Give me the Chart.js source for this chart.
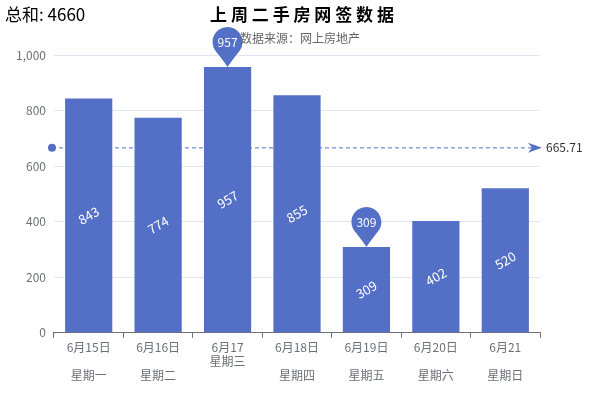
<!DOCTYPE html>
<html><head><meta charset="utf-8">
<script src="https://cdn.jsdelivr.net/npm/chart.js@4/dist/chart.umd.min.js"></script>
<style>body{margin:0;background:#fff}#wrap{width:600px;height:400px}</style>
</head><body><div id="wrap"><canvas id="c"></canvas></div>
<script>
// data
const dates = ['6月15日', '6月16日', '6月17', '6月18日', '6月19日', '6月20日', '6月21'];
const weekdays = ['星期一', '星期二', '星期三', '星期四', '星期五', '星期六', '星期日'];
const values = [843, 774, 957, 855, 309, 402, 520];
const yTicks = [0, 200, 400, 600, 800, 1000];

const total = values.reduce((a, b) => a + b, 0);
const avg = total / values.length;
const labels = dates.map((d, i) => i === 2 ? [d, weekdays[i]] : [d, '', weekdays[i]]);
const blue = '#5470c6';
const font = '"Noto Sans CJK SC", "Noto Sans", sans-serif';

const extras = {
  id: 'extras',
  afterDatasetsDraw(chart) {
    const ctx = chart.ctx, x = chart.scales.x, y = chart.scales.y;
    const meta = chart.getDatasetMeta(0);
    ctx.save();
    // value labels inside bars
    ctx.fillStyle = '#fff';
    ctx.font = '13px ' + font;
    ctx.textAlign = 'center'; ctx.textBaseline = 'middle';
    meta.data.forEach((bar, i) => {
      ctx.save();
      ctx.translate(bar.x, (bar.y + bar.base) / 2);
      ctx.rotate(-Math.PI / 6);
      ctx.fillText(values[i], 0, 0);
      ctx.restore();
    });
    // max / min pins
    const maxI = values.indexOf(Math.max(...values));
    const minI = values.indexOf(Math.min(...values));
    [maxI, minI].forEach(i => {
      const bx = meta.data[i].x, by = meta.data[i].y;
      const cy = by - 25, r = 15;
      ctx.fillStyle = blue;
      ctx.beginPath();
      ctx.arc(bx, cy, r, Math.PI * 0.8, Math.PI * 0.2);
      ctx.quadraticCurveTo(bx + 4, by - 6, bx, by);
      ctx.quadraticCurveTo(bx - 4, by - 6, bx - r * Math.cos(Math.PI * 0.2), cy + r * Math.sin(Math.PI * 0.2));
      ctx.fill();
      ctx.fillStyle = '#fff';
      ctx.font = '12px ' + font;
      ctx.fillText(values[i], bx, cy);
    });
    // average line
    const ay = y.getPixelForValue(avg);
    const x0 = chart.chartArea.left - 2, x1 = chart.chartArea.right;
    ctx.strokeStyle = blue; ctx.lineWidth = 1;
    ctx.setLineDash([4, 3]);
    ctx.beginPath(); ctx.moveTo(x0, ay); ctx.lineTo(x1 - 4, ay); ctx.stroke();
    ctx.setLineDash([]);
    ctx.fillStyle = blue;
    ctx.beginPath(); ctx.arc(x0, ay, 4, 0, Math.PI * 2); ctx.fill();
    ctx.beginPath(); ctx.moveTo(x1 + 2, ay); ctx.lineTo(x1 - 12, ay - 5); ctx.lineTo(x1 - 8, ay); ctx.lineTo(x1 - 12, ay + 5); ctx.closePath(); ctx.fill();
    ctx.fillStyle = '#333'; ctx.textAlign = 'left';
    ctx.font = '12px ' + font;
    ctx.fillText(avg.toFixed(2), x1 + 6, ay);
    // titles
    ctx.textBaseline = 'middle';
    ctx.fillStyle = '#000';
    ctx.font = '17px ' + font;
    ctx.fillText('总和: ' + total, 5, 15);
    ctx.textAlign = 'center';
    ctx.font = 'bold 17px ' + font;
    ctx.fillText('上 周 二 手 房 网 签 数 据', 302, 15);
    ctx.fillStyle = '#666';
    ctx.font = '12px ' + font;
    ctx.fillText('数据来源：网上房地产', 300, 38);
    ctx.restore();
  }
};

new Chart(document.getElementById('c'), {
  type: 'bar',
  data: { labels: labels, datasets: [{ data: values, backgroundColor: blue, barPercentage: 0.68, categoryPercentage: 1 }] },
  options: {
    responsive: true, maintainAspectRatio: false, animation: false,
    layout: { padding: { top: 55, right: 60, left: 8, bottom: 15 } },
    plugins: { legend: { display: false }, tooltip: { enabled: false } },
    scales: {
      x: {
        grid: { offset: true, drawOnChartArea: false, tickLength: 5, color: '#6e7079' },
        border: { color: '#6e7079' },
        ticks: { color: '#6e7079', font: { size: 12, family: font }, maxRotation: 0, padding: 2 }
      },
      y: {
        min: 0, max: 1000,
        afterBuildTicks: s => { s.ticks = yTicks.map(v => ({ value: v })); },
        grid: { color: '#e0e6f1', drawTicks: false },
        border: { display: false },
        ticks: { color: '#6e7079', font: { size: 12, family: font }, padding: 8 }
      }
    }
  },
  plugins: [extras]
});
</script></body></html>
